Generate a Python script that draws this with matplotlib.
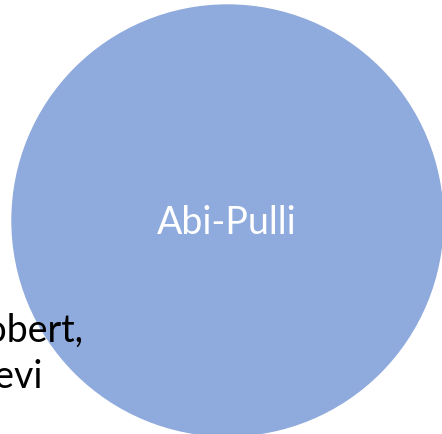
import matplotlib.pyplot as plt
from matplotlib.patches import Circle

# set label inside the circle and the neighbouring (cut off) label
set_names = ["Abi-Pulli"]
outside_lines = ["Robert,", "Levi"]
circle_color = "#8FAADC"

fig = plt.figure(figsize=(4.42, 4.35), dpi=100)
ax = fig.add_axes([0, 0, 1, 1])
ax.set_xlim(0, 442)
ax.set_ylim(435, 0)
ax.axis("off")

ax.add_patch(Circle((227.5, 221.5), 215.5, color=circle_color, zorder=1))

ax.text(227, 234, set_names[0], ha="center", va="baseline", color="white",
        fontsize=27, family="Lato", zorder=3)

ax.text(84, 342, outside_lines[0], ha="right", va="baseline", color="black",
        fontsize=27, family="Lato", zorder=3)
ax.text(43, 388, outside_lines[1], ha="right", va="baseline", color="black",
        fontsize=27, family="Lato", zorder=3)

fig.savefig("out.png", dpi=100)
